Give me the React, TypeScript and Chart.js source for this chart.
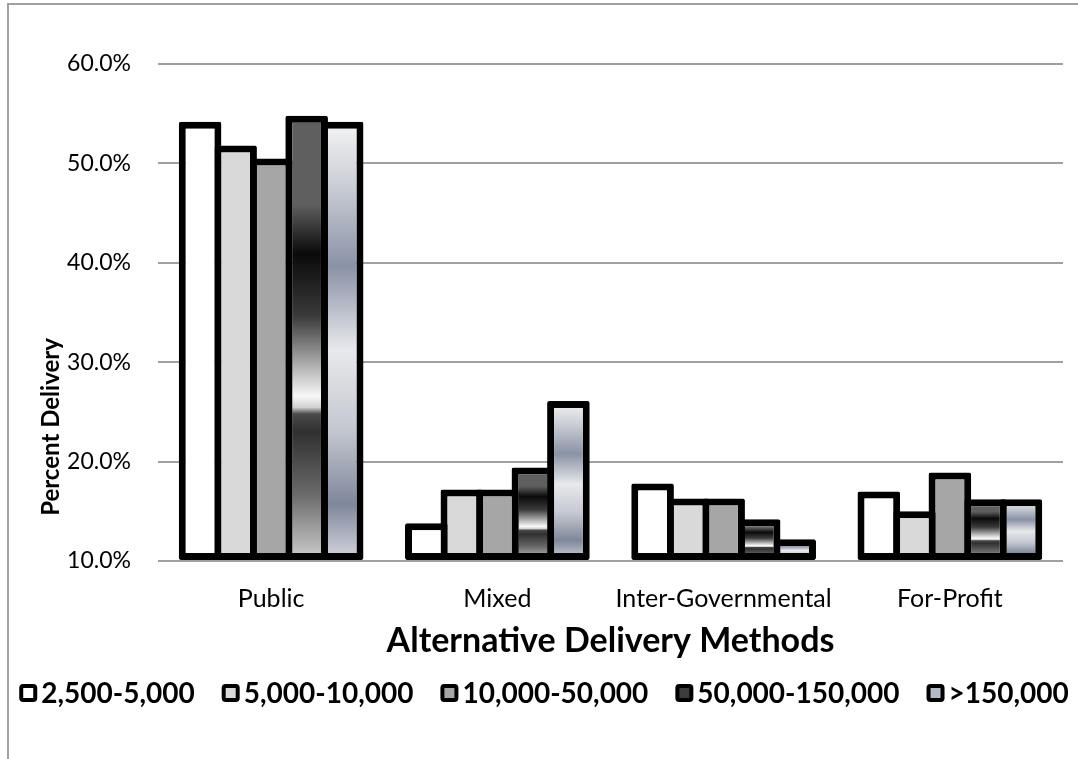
import React, { useEffect, useRef } from "react";
import { Chart, registerables } from "chart.js";

Chart.register(...registerables);

const categories = ["Public", "Mixed", "Inter-Governmental", "For-Profit"];
const seriesNames = ["2,500-5,000", "5,000-10,000", "10,000-50,000", "50,000-150,000", ">150,000"];
const s2500 = [54.2, 13.8, 17.8, 17.0];
const s5000 = [51.8, 17.2, 16.3, 15.0];
const s10000 = [50.5, 17.2, 16.3, 18.9];
const s50000 = [54.8, 19.4, 14.2, 16.2];
const s150000 = [54.2, 26.1, 12.2, 16.2];
const yMin = 10;
const yMax = 60;
const yStep = 10;

const grad4: [number, string][] = [
  [0, "#5f5f5f"], [0.2, "#5f5f5f"], [0.31, "#0a0a0a"], [0.45, "#3a3a3a"],
  [0.63, "#f8f8f8"], [0.655, "#d0d0d0"], [0.67, "#4a4a4a"], [0.71, "#303030"],
  [0.85, "#6a6a6a"], [1, "#d0d0d0"],
];
const grad5: [number, string][] = [
  [0, "#f5f5f5"], [0.15, "#c9ccd4"], [0.33, "#8a92a6"], [0.52, "#e8e9ec"],
  [0.7, "#c5c8d0"], [0.87, "#7f879b"], [1, "#d6d8de"],
];

function gradientFill(stops: [number, string][], fallback: string) {
  return (ctx: any) => {
    const chart = ctx.chart;
    if (!chart.chartArea || ctx.type !== "data" || !chart.scales.y) return fallback;
    const y = chart.scales.y;
    const top = y.getPixelForValue(ctx.raw);
    const bottom = y.getPixelForValue(yMin);
    if (!isFinite(top) || !isFinite(bottom) || top === bottom) return fallback;
    const g = chart.ctx.createLinearGradient(0, top, 0, bottom);
    stops.forEach(([o, c]) => g.addColorStop(o, c));
    return g;
  };
}

const legendColors = ["#ffffff", "#d9d9d9", "#a6a6a6", "#3c3c3c", "#b4b9c6"];

const yTitlePlugin = {
  id: "yTitleCustom",
  afterDraw(chart: any) {
    const c = chart.ctx;
    c.save();
    c.translate(51, 427);
    c.rotate(-Math.PI / 2);
    c.font = "bold 24px Lato";
    c.textAlign = "center";
    c.textBaseline = "middle";
    c.fillStyle = "#000";
    c.fillText("Percent Delivery", 0, 0);
    c.restore();
  },
};

const legendPlugin = {
  id: "customLegend",
  afterDraw(chart: any) {
    const c = chart.ctx;
    c.save();
    c.font = "bold 28px Lato";
    const items = chart.data.datasets.map((d: any, i: number) => ({
      text: d.label,
      w: c.measureText(d.label).width,
      color: legendColors[i],
    }));
    const box = 18;
    const gap = 4;
    const spacing = 27;
    const total = items.reduce((s: number, it: any) => s + box + gap + it.w, 0) + spacing * (items.length - 1);
    let x = 544 - total / 2;
    const cy = 693;
    c.textBaseline = "middle";
    c.textAlign = "left";
    items.forEach((it: any) => {
      c.fillStyle = it.color;
      c.strokeStyle = "#000";
      c.lineWidth = 4;
      c.beginPath();
      if ((c as any).roundRect) (c as any).roundRect(x + 2, cy - box / 2 + 2, box - 4, box - 4, 2);
      else c.rect(x + 2, cy - box / 2 + 2, box - 4, box - 4);
      c.fill();
      c.stroke();
      c.fillStyle = "#000";
      c.fillText(it.text, x + box + gap, cy + 1);
      x += box + gap + it.w + spacing;
    });
    c.restore();
  },
};

export default function App() {
  const ref = useRef<HTMLCanvasElement | null>(null);
  useEffect(() => {
    if (!ref.current) return;
    Chart.defaults.color = "#000";
    const common = {
      borderColor: "#000",
      borderWidth: 7,
      borderSkipped: false,
      borderRadius: 2,
      base: yMin,
      categoryPercentage: 0.785,
      barPercentage: 1.2,
    };
    const chart = new Chart(ref.current, {
      type: "bar",
      data: {
        labels: categories,
        datasets: [
          { label: seriesNames[0], data: s2500, backgroundColor: "#ffffff", ...common },
          { label: seriesNames[1], data: s5000, backgroundColor: "#d9d9d9", ...common },
          { label: seriesNames[2], data: s10000, backgroundColor: "#a6a6a6", ...common },
          { label: seriesNames[3], data: s50000, backgroundColor: gradientFill(grad4, "#3c3c3c"), ...common },
          { label: seriesNames[4], data: s150000, backgroundColor: gradientFill(grad5, "#b4b9c6"), ...common },
        ] as any,
      },
      options: {
        responsive: false,
        animation: false,
        layout: { padding: { top: 64, right: 15, bottom: 85, left: 0 } },
        plugins: {
          legend: { display: false },
          tooltip: { enabled: false },
        },
        scales: {
          x: {
            grid: { display: false, drawTicks: false },
            border: { display: false },
            ticks: { color: "#000", padding: 23, maxRotation: 0, autoSkip: false, font: { family: "Lato", size: 25 } },
            title: {
              display: true,
              text: "Alternative Delivery Methods",
              color: "#000",
              font: { family: "Lato", size: 34, weight: "bold" },
              padding: { top: 0, bottom: 13 },
            },
            afterFit: (scale: any) => {
              scale.height = 113;
            },
          },
          y: {
            min: yMin,
            max: yMax,
            grid: { color: "#a0a0a0", lineWidth: 2, drawTicks: false },
            border: { display: false },
            ticks: {
              stepSize: yStep,
              padding: 27,
              color: "#000",
              font: { family: "Lato", size: 23 },
              callback: (v: any) => Number(v).toFixed(1) + "%",
            },
            afterFit: (scale: any) => {
              scale.width = 158;
            },
          },
        },
      } as any,
      plugins: [yTitlePlugin, legendPlugin],
    });
    return () => chart.destroy();
  }, []);

  return (
    <div style={{ position: "fixed", left: 0, top: 0, width: 1078, height: 759, overflow: "hidden", background: "#fff" }}>
      <div
        style={{
          position: "absolute",
          left: 7,
          top: 3,
          width: 1200,
          height: 900,
          borderTop: "2px solid #a0a0a0",
          borderLeft: "2px solid #a0a0a0",
        }}
      />
      <canvas ref={ref} width={1078} height={759} style={{ position: "absolute", left: 0, top: 0, width: 1078, height: 759 }} />
    </div>
  );
}
